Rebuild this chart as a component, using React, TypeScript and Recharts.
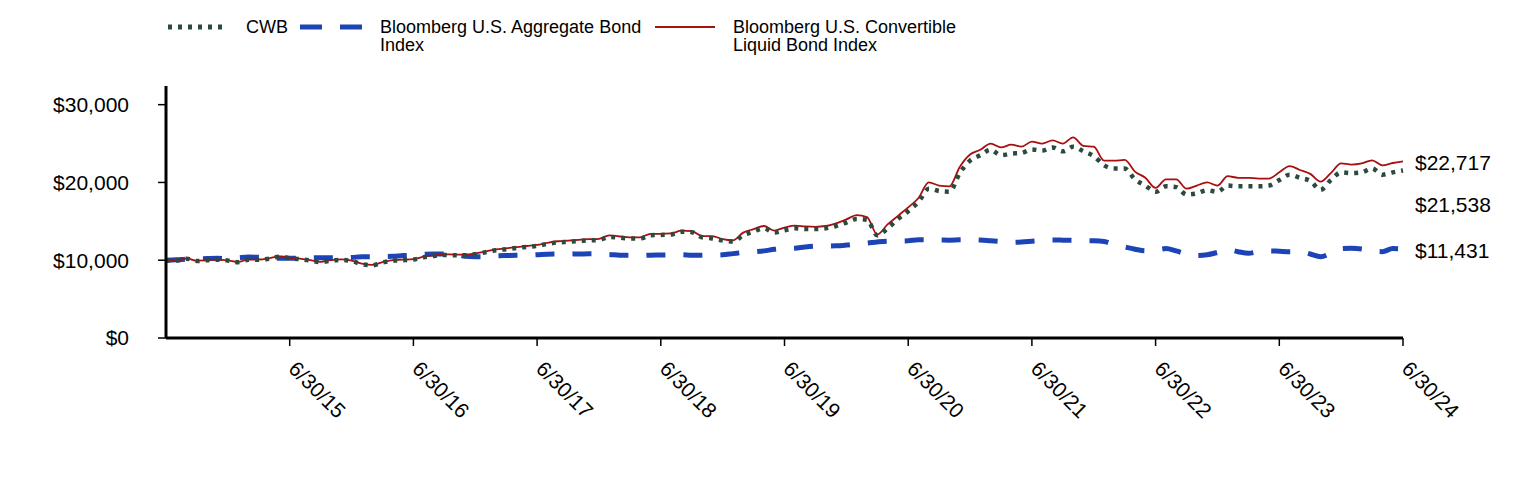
import { Line, LineChart, XAxis, YAxis } from "recharts";

// month index 0 = 6/30/14 ... 120 = 6/30/24
const tickMonths = [12, 24, 36, 48, 60, 72, 84, 96, 108, 120];
const tickLabels = ["6/30/15", "6/30/16", "6/30/17", "6/30/18", "6/30/19", "6/30/20", "6/30/21", "6/30/22", "6/30/23", "6/30/24"];
const yTicks = [0, 10000, 20000, 30000];

const cwb = [
  10000, 9950, 10200, 9900, 10000, 10050, 9950, 9750, 10050, 10050,
  10200, 10450, 10250, 10150, 9950, 9750, 9950, 10050, 9900, 9500,
  9350, 9700, 9950, 10000, 10080, 10380, 10550, 10680, 10640, 10640,
  10770, 11030, 11290, 11420, 11580, 11710, 11840, 12100, 12290, 12360,
  12450, 12550, 12600, 13000, 12900, 12800, 12800, 13200, 13250, 13300,
  13650, 13600, 12950, 12800, 12550, 12400, 13200, 13700, 14100, 13550,
  13850, 14100, 14000, 14000, 14100, 14400, 14850, 15300, 15200, 13200,
  14100, 15300, 16300, 17500, 19200, 18900, 18800, 21200, 22800, 23500,
  24200, 23500, 23700, 23800, 24250, 24100, 24500, 24000, 24600, 24000,
  23400, 22200, 21800, 21800, 20400, 19600, 18800, 19500, 19400, 18450,
  18600, 19000, 18800, 19600, 19500, 19500, 19500, 19600, 20300, 21000,
  20600, 20200, 19050, 20300, 21300, 21200, 21300, 21800, 21000, 21300,
  21538,
];

const aggregate = [
  10000, 10050, 10150, 10180, 10220, 10250, 10200, 10300, 10400, 10380,
  10300, 10250, 10260, 10250, 10300, 10320, 10330, 10320, 10350, 10450,
  10450, 10480, 10500, 10600, 10650, 10750, 10800, 10800, 10780, 10500,
  10450, 10470, 10550, 10600, 10640, 10650, 10700, 10780, 10800, 10820,
  10810, 10820, 10800, 10750, 10650, 10620, 10600, 10650, 10660, 10680,
  10700, 10650, 10640, 10660, 10700, 10850, 11000, 11100, 11200, 11400,
  11500, 11550, 11700, 11800, 11830, 11850, 11950, 12100, 12200, 12350,
  12450, 12470, 12500, 12620, 12610, 12600, 12580, 12620, 12630, 12600,
  12500, 12400, 12300, 12350, 12450, 12550, 12600, 12580, 12550, 12520,
  12500, 12400, 12000, 11700, 11420, 11200, 11300, 11500, 11200, 10800,
  10600, 10700, 11000, 11350, 11100, 10900, 11100, 11200, 11150, 11100,
  11100, 10800, 10450, 10900, 11500, 11550, 11450, 11200, 11100, 11500,
  11431,
];

const convertible = [
  10000, 9960, 10220, 9920, 10020, 10080, 9980, 9780, 10080, 10090,
  10250, 10500, 10300, 10200, 10000, 9800, 10000, 10100, 9950, 9560,
  9400, 9750, 10020, 10070, 10150, 10450, 10620, 10760, 10720, 10720,
  10860, 11120, 11390, 11520, 11690, 11830, 11970, 12240, 12440, 12520,
  12620, 12700, 12750, 13200, 13050, 12950, 12950, 13400, 13400, 13450,
  13800, 13750, 13100, 13100, 12700, 12550, 13550, 14000, 14400, 13800,
  14200, 14450, 14350, 14300, 14400, 14750, 15250, 15800, 15550, 13300,
  14600, 15700, 16800, 18000, 20000, 19600, 19500, 22000, 23600, 24200,
  25000, 24500, 24850, 24600, 25250, 25000, 25400, 25000, 25800, 24700,
  24600, 22800, 22800, 22900, 21400, 20600, 19300, 20400, 20400, 19200,
  19600, 20000, 19600, 20800, 20600, 20600, 20500, 20500, 21300, 22100,
  21600, 21100, 20100, 21200, 22450, 22300, 22450, 22850, 22200, 22500,
  22717,
];

const data = cwb.map((v, i) => ({
  m: i,
  cwb: v,
  agg: aggregate[i],
  conv: convertible[i],
}));

const FONT = "'Liberation Sans', Arial, sans-serif";
const GREEN = "#2c4a3d";
const BLUE = "#1c44b6";
const RED = "#a80f0f";

const money = (v: number) => "$" + v.toLocaleString("en-US");

const XTick = (props: any) => {
  const { x, y, payload } = props;
  const label = tickLabels[tickMonths.indexOf(payload.value)];
  return (
    <g transform={`translate(${x},${y + 14}) rotate(45)`}>
      <text x={4} y={0} dy="0.35em" textAnchor="start" fontSize={21} fill="#000" fontFamily={FONT}>
        {label}
      </text>
    </g>
  );
};

const endLabel = (dy: number) => (props: any) => {
  const { x, y, index, value } = props;
  if (index !== cwb.length - 1) return <g />;
  return (
    <text x={x + 12} y={y + dy} dominantBaseline="central" fontSize={21} fill="#000" fontFamily={FONT}>
      {money(value)}
    </text>
  );
};

const legendText = { fontFamily: FONT, fontSize: 18, lineHeight: "18px", color: "#000" };

const Legend = () => (
  <div style={{ position: "absolute", left: 0, top: 0, width: 1000, height: 60 }}>
    <svg style={{ position: "absolute", left: 160, top: 12 }} width={60} height={12}>
      <line x1={0} y1={7} x2={60} y2={7} stroke={GREEN} strokeWidth={5} strokeDasharray="4 6" />
    </svg>
    <div style={{ ...legendText, position: "absolute", left: 238, top: 10 }}>CWB</div>
    <svg style={{ position: "absolute", left: 292, top: 12 }} width={64} height={12}>
      <line x1={0} y1={7} x2={64} y2={7} stroke={BLUE} strokeWidth={5} strokeDasharray="22 18" />
    </svg>
    <div style={{ ...legendText, position: "absolute", left: 372, top: 10, width: 280 }}>
      Bloomberg U.S. Aggregate Bond
      <br />
      Index
    </div>
    <svg style={{ position: "absolute", left: 647, top: 12 }} width={60} height={12}>
      <line x1={0} y1={7} x2={60} y2={7} stroke={RED} strokeWidth={2} />
    </svg>
    <div style={{ ...legendText, position: "absolute", left: 725, top: 10, width: 280 }}>
      Bloomberg U.S. Convertible
      <br />
      Liquid Bond Index
    </div>
  </div>
);

export default function App() {
  return (
    <div style={{ position: "relative", width: 1508, height: 464 }}>
      <LineChart
        width={1508}
        height={464}
        data={data}
        margin={{ top: 78, right: 113, left: 0, bottom: 34 }}
      >
        <XAxis
          dataKey="m"
          type="number"
          domain={[0, 120]}
          ticks={tickMonths}
          interval={0}
          height={100}
          tickSize={8}
          tick={<XTick />}
          axisLine={{ stroke: "#000", strokeWidth: 3 }}
          tickLine={{ stroke: "#000", strokeWidth: 1.5 }}
        />
        <YAxis
          type="number"
          domain={[0, 32400]}
          ticks={yTicks}
          width={158}
          tickSize={8}
          tickMargin={29}
          tickFormatter={money}
          tick={{ fontSize: 21, fill: "#000", fontFamily: FONT }}
          axisLine={{ stroke: "#000", strokeWidth: 3 }}
          tickLine={{ stroke: "#000", strokeWidth: 1.5 }}
        />
        <Line
          dataKey="agg"
          type="monotone"
          stroke={BLUE}
          strokeWidth={5}
          strokeDasharray="19 18"
          dot={false}
          isAnimationActive={false}
          label={endLabel(1)}
        />
        <Line
          dataKey="conv"
          type="monotone"
          stroke={RED}
          strokeWidth={1.8}
          dot={false}
          isAnimationActive={false}
          label={endLabel(1)}
        />
        <Line
          dataKey="cwb"
          type="monotone"
          stroke={GREEN}
          strokeWidth={4.5}
          strokeDasharray="4 6"
          dot={false}
          isAnimationActive={false}
          label={endLabel(34)}
        />
      </LineChart>
      <Legend />
    </div>
  );
}
